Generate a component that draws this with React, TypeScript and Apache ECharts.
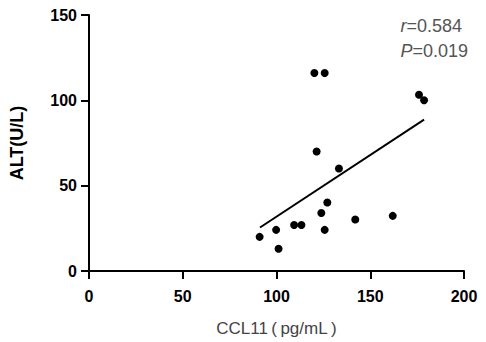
import React, { useEffect, useRef } from "react";
import * as echarts from "echarts";

const ccl11 = [91.0, 99.8, 101.1, 109.4, 113.3, 120.2, 125.7, 121.4, 123.9, 125.7, 127.1, 133.3, 142.0, 162.0, 176.0, 178.7];
const alt = [20.0, 24.1, 13.0, 27.0, 27.0, 116, 116, 70, 34, 24.1, 40.1, 60.1, 30.2, 32.3, 103.3, 100];
const fitX = [91.2, 178.7];
const fitY = [25.5, 88.7];
const xTicks = [0, 50, 100, 150, 200];
const yTicks = [0, 50, 100, 150];

export default function App() {
  const ref = useRef<HTMLDivElement>(null);
  useEffect(() => {
    if (!ref.current) return;
    const chart = echarts.init(ref.current, null, { renderer: "svg" });
    const font = "'Liberation Sans', Arial, Helvetica, sans-serif";
    chart.setOption({
      animation: false,
      grid: { left: 88, right: 22, top: 15, bottom: 70 },
      xAxis: {
        type: "value",
        min: xTicks[0],
        max: xTicks[xTicks.length - 1],
        interval: 50,
        name: "CCL11\u2009(\u2009pg/mL\u2009)",
        nameLocation: "middle",
        nameGap: 49,
        nameTextStyle: { color: "#444", fontSize: 17, fontFamily: font },
        axisLine: { lineStyle: { color: "#000", width: 2 } },
        axisTick: { show: true, length: 8, lineStyle: { color: "#000", width: 2 } },
        axisLabel: { color: "#000", fontWeight: "bold", fontSize: 16, fontFamily: font, margin: 17 },
        splitLine: { show: false },
      },
      yAxis: {
        type: "value",
        min: yTicks[0],
        max: yTicks[yTicks.length - 1],
        interval: 50,
        name: "ALT(U/L)",
        nameLocation: "middle",
        nameGap: 63,
        nameRotate: 90,
        nameTextStyle: { color: "#000", fontSize: 18, fontWeight: "bold", fontFamily: font },
        axisLine: { show: true, lineStyle: { color: "#000", width: 2 } },
        axisTick: { show: true, length: 8, lineStyle: { color: "#000", width: 2 } },
        axisLabel: { color: "#000", fontWeight: "bold", fontSize: 16, fontFamily: font, margin: 12 },
        splitLine: { show: false },
      },
      graphic: [
        {
          type: "text",
          right: 18,
          top: 13,
          style: {
            text: "{i|r}=0.584\n{i|P}=0.019",
            fill: "#555",
            font: `18px ${font}`,
            lineHeight: 25,
            rich: {
              i: { fontStyle: "italic", fontSize: 18, fill: "#555", fontFamily: font, lineHeight: 25 },
            },
          },
        },
      ],
      series: [
        {
          type: "scatter",
          data: ccl11.map((x, i) => [x, alt[i]]),
          symbolSize: 8,
          itemStyle: { color: "#000", opacity: 1 },
        },
        {
          type: "line",
          data: fitX.map((x, i) => [x, fitY[i]]),
          showSymbol: false,
          symbol: "none",
          lineStyle: { color: "#000", width: 2 },
        },
      ],
    });
    return () => chart.dispose();
  }, []);
  return <div ref={ref} style={{ position: "absolute", left: 0, top: 0, width: 486, height: 342 }} />;
}
